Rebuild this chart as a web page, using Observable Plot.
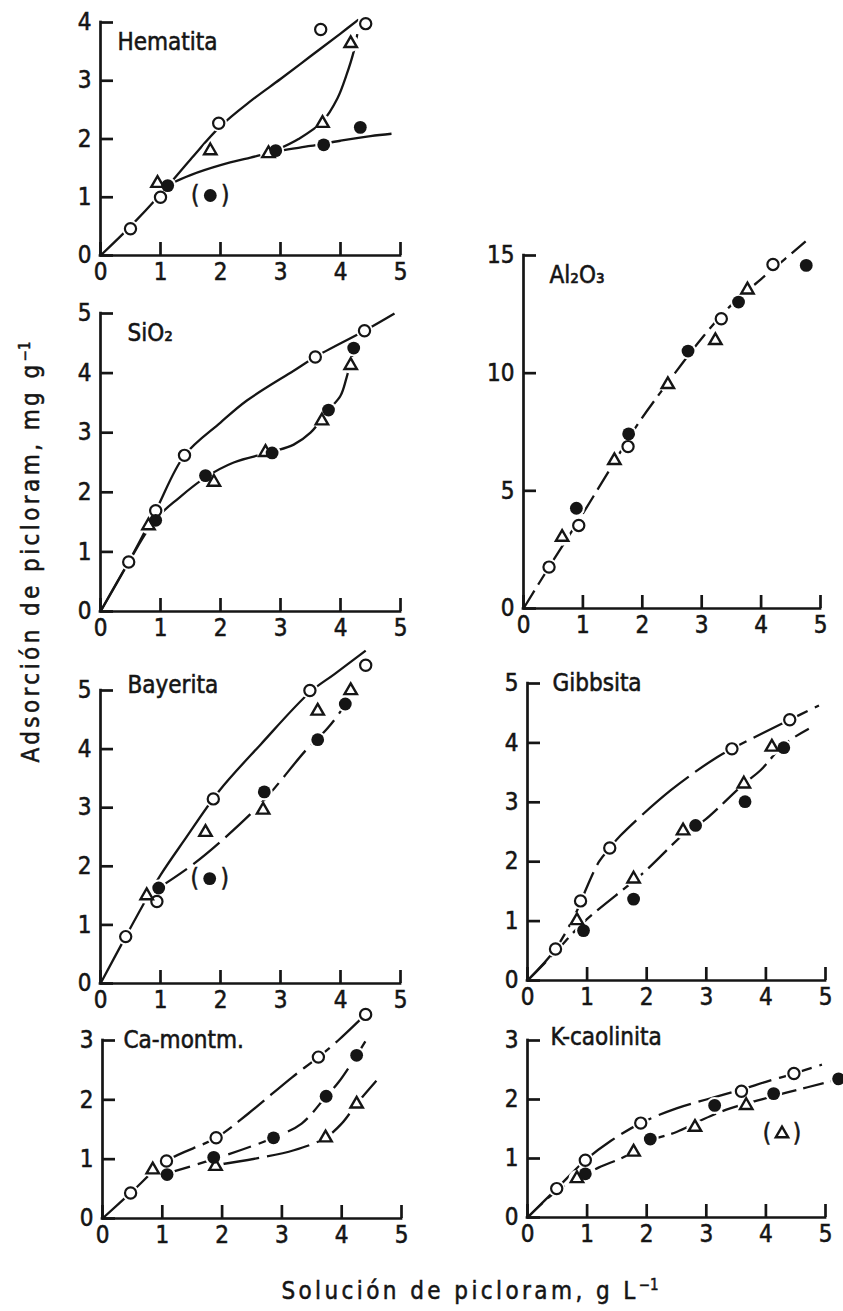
<!DOCTYPE html>
<html><head><meta charset="utf-8">
<script src="https://cdn.jsdelivr.net/npm/d3@7"></script>
<script src="https://cdn.jsdelivr.net/npm/@observablehq/plot@0.6"></script>
<style>
html,body{margin:0;padding:0;background:#fff;}
#root{position:relative;width:843px;height:1311px;overflow:hidden;background:#fff;font-family:"DejaVu Sans Condensed","DejaVu Sans",sans-serif;color:#151515;}
#root svg{position:absolute;overflow:visible;}
#root svg text{stroke:#151515;stroke-width:0.55px;}
g[aria-label="panel-label"] text{letter-spacing:3.5px;}
.title{position:absolute;font-size:24px;letter-spacing:3.4px;white-space:nowrap;text-align:center;line-height:30px;-webkit-text-stroke:0.5px #151515;}
.title sup{font-size:15px;letter-spacing:0;vertical-align:9px;line-height:0;}
</style></head>
<body><div id="root"></div>
<script>
// ---------- data ----------
const xTicks = [0, 1, 2, 3, 4, 5];
const yTicks4 = [0, 1, 2, 3, 4];
const yTicks5 = [0, 1, 2, 3, 4, 5];
const yTicks15 = [0, 5, 10, 15];
const yTicks3 = [0, 1, 2, 3];

const panelNames = ["Hematita", "SiO₂", "Al₂O₃", "Bayerita", "Gibbsita", "Ca-montm.", "K-caolinita"];

// Hematita
const hemOpen   = [[0.5,0.46],[1.0,1.0],[1.97,2.27],[3.67,3.88],[4.42,3.98]];
const hemTri    = [[0.95,1.24],[1.83,1.80],[2.80,1.75],[3.70,2.27],[4.17,3.64]];
const hemFilled = [[1.12,1.20],[2.92,1.80],[3.72,1.90],[4.33,2.20]];
const hemOutFilled = [[1.83,1.03]];
const hemCurveOpen   = [[0,0],[0.5,0.5],[1,1.05],[1.5,1.65],[2,2.22],[2.5,2.65],[3,3.03],[3.5,3.42],[4,3.81],[4.3,4.05]];
const hemCurveFilled = [[1.1,1.2],[1.5,1.38],[2,1.55],[2.5,1.68],[3,1.8],[3.5,1.88],[4,1.97],[4.5,2.05],[4.85,2.09]];
const hemCurveTri    = [[2.95,1.82],[3.3,2.0],[3.7,2.3],[3.95,2.7],[4.1,3.1],[4.22,3.5],[4.28,3.8]];

// SiO2
const sioOpen   = [[0.47,0.83],[0.92,1.69],[1.40,2.62],[3.58,4.27],[4.40,4.71]];
const sioTri    = [[0.80,1.44],[1.89,2.17],[2.75,2.67],[3.69,3.20],[4.17,4.13]];
const sioFilled = [[0.92,1.53],[1.75,2.28],[2.86,2.66],[3.80,3.38],[4.22,4.42]];
const sioCurveOpen = [[0,0],[0.47,0.83],[0.92,1.69],[1.4,2.62],[2.0,3.17],[2.44,3.54],[3.22,4.04],[3.58,4.27],[4.4,4.71],[4.9,5.0]];
const sioCurveLow  = [[0,0],[0.47,0.83],[0.92,1.55],[1.3,1.9],[1.75,2.25],[2.22,2.5],[2.86,2.68],[3.22,2.8],[3.5,3.0],[3.8,3.38],[4.0,3.62],[4.1,3.92],[4.2,4.3],[4.25,4.5]];

// Al2O3
const alOpen   = [[0.43,1.76],[0.93,3.53],[1.76,6.88],[3.33,12.31],[4.20,14.62]];
const alTri    = [[0.65,3.03],[1.53,6.29],[2.43,9.52],[3.23,11.39],[3.77,13.54]];
const alFilled = [[0.89,4.26],[1.77,7.42],[2.77,10.94],[3.62,13.02],[4.76,14.58]];
const alCurve  = [[0,0],[0.43,1.76],[0.93,3.75],[1.5,6.1],[1.91,7.78],[2.43,9.6],[3.04,11.6],[3.5,12.9],[4.0,14.0],[4.4,14.85],[4.75,15.6]];

// Bayerita
const bayOpen   = [[0.42,0.80],[0.94,1.40],[1.88,3.15],[3.49,5.00],[4.42,5.43]];
const bayTri    = [[0.77,1.50],[1.75,2.58],[2.71,2.96],[3.62,4.65],[4.17,5.00]];
const bayFilled = [[0.97,1.63],[2.73,3.27],[3.62,4.16],[4.08,4.77]];
const bayOutFilled = [[1.82,1.79]];
const bayCurveOpen = [[0,0],[0.42,0.8],[0.77,1.45],[1.0,1.85],[1.4,2.45],[1.98,3.29],[2.67,4.08],[3.49,4.97],[3.9,5.28],[4.42,5.68]];
const bayCurveLow  = [[0.97,1.63],[1.5,2.0],[2.0,2.42],[2.7,3.1],[3.44,4.0],[3.78,4.35],[4.08,4.77],[4.15,4.95]];

// Gibbsita
const gibOpen   = [[0.47,0.53],[0.89,1.34],[1.38,2.23],[3.43,3.90],[4.40,4.39]];
const gibTri    = [[0.83,1.01],[1.78,1.71],[2.61,2.52],[3.63,3.31],[4.10,3.93]];
const gibFilled = [[0.94,0.84],[1.78,1.37],[2.82,2.61],[3.65,3.01],[4.30,3.92]];
const gibCurveOpen = [[0,0],[0.47,0.53],[0.89,1.3],[0.97,1.51],[1.2,2.0],[1.38,2.23],[1.56,2.44],[2.4,3.2],[3.18,3.76],[3.43,3.9],[4.4,4.39],[4.89,4.63]];
const gibCurveLow  = [[0,0],[0.47,0.48],[0.94,0.98],[1.95,1.82],[2.61,2.45],[2.96,2.69],[3.63,3.31],[3.91,3.54],[4.3,3.97],[4.72,4.24]];

// Ca-montm.
const caOpen   = [[0.47,0.43],[1.07,0.97],[1.90,1.36],[3.61,2.72],[4.40,3.44]];
const caTri    = [[0.84,0.82],[1.89,0.88],[3.73,1.36],[4.25,1.93]];
const caFilled = [[1.08,0.74],[1.86,1.03],[2.86,1.36],[3.74,2.06],[4.25,2.75]];
const caCurveOpen   = [[0,0],[0.47,0.43],[1.07,0.97],[1.9,1.36],[2.44,1.77],[3.17,2.38],[3.61,2.72],[3.94,3.0],[4.4,3.44]];
const caCurveFilled = [[1.08,0.76],[1.86,1.0],[2.5,1.22],[2.86,1.36],[3.33,1.6],[3.74,2.06],[3.95,2.3],[4.25,2.75],[4.44,3.06]];
const caCurveTri    = [[1.89,0.9],[2.67,1.03],[3.2,1.15],[3.73,1.36],[4.0,1.6],[4.25,1.93],[4.58,2.32]];

// K-caolinita
const kOpen   = [[0.49,0.49],[0.97,0.97],[1.90,1.60],[3.59,2.14],[4.47,2.44]];
const kTri    = [[0.83,0.66],[1.78,1.11],[2.81,1.53],[3.67,1.90]];
const kFilled = [[0.97,0.74],[2.06,1.33],[3.14,1.90],[4.13,2.10],[5.22,2.35]];
const kOutTri = [[4.27,1.42]];
const kCurveOpen = [[0,0],[0.49,0.49],[0.97,0.97],[1.4,1.3],[1.9,1.6],[2.5,1.85],[3.0,2.0],[3.59,2.17],[4.0,2.3],[4.47,2.44],[4.94,2.59]];
const kCurveLow  = [[0,0],[0.49,0.45],[0.97,0.73],[1.2,0.85],[1.67,1.05],[2.06,1.3],[2.5,1.45],[2.96,1.67],[3.4,1.85],[3.85,1.98],[4.36,2.12],[5.14,2.32]];

// ---------- layout (page pixels of each frame) ----------
const INK = "#151515";
const DASH = "21,7", LONG = "34,8";
const panels = [
  {name: panelNames[0], yTicks: yTicks4, frame: [100,400,255,22], lab: [17,10],
   curves: [[hemCurveOpen,null],[hemCurveFilled,null],[hemCurveTri,null]],
   open: hemOpen, tri: hemTri, filled: hemFilled, outFilled: hemOutFilled},
  {name: panelNames[1], yTicks: yTicks5, frame: [100,400,611,313], lab: [27,10],
   curves: [[sioCurveOpen,null],[sioCurveLow,null]],
   open: sioOpen, tri: sioTri, filled: sioFilled},
  {name: panelNames[2], yTicks: yTicks15, frame: [523,820,608,255], lab: [26,10],
   curves: [[alCurve,DASH]],
   open: alOpen, tri: alTri, filled: alFilled},
  {name: panelNames[3], yTicks: yTicks5, frame: [100,400,983,690], lab: [27,-15],
   curves: [[bayCurveOpen,null],[bayCurveLow,LONG]],
   open: bayOpen, tri: bayTri, filled: bayFilled, outFilled: bayOutFilled},
  {name: panelNames[4], yTicks: yTicks5, frame: [527,825,980,683], lab: [25,-10],
   curves: [[gibCurveOpen,"60,8"],[gibCurveLow,"26,7"]],
   open: gibOpen, tri: gibTri, filled: gibFilled},
  {name: panelNames[5], yTicks: yTicks3, frame: [102,401,1218,1040], lab: [21,-10],
   curves: [[caCurveOpen,LONG],[caCurveFilled,"24,8"],[caCurveTri,"44,8"]],
   open: caOpen, tri: caTri, filled: caFilled},
  {name: panelNames[6], yTicks: yTicks3, frame: [527,825,1217,1040], lab: [23,-13],
   curves: [[kCurveOpen,LONG],[kCurveLow,DASH]],
   open: kOpen, tri: kTri, filled: kFilled, outTri: kOutTri}
];

const root = document.getElementById("root");
const X = d => d[0], Y = d => d[1];
const fmt = d => String(d);

for (const p of panels) {
  const [x0, x5, y0, yt] = p.frame;
  const mL = 60, mR = 34, mT = 52, mB = 48;
  const fw = x5 - x0, fh = y0 - yt;
  const ymax = p.yTicks[p.yTicks.length - 1];
  const pts = [...p.open, ...p.tri, ...p.filled];
  const marks = [];
  for (const [c, dash] of p.curves) {
    marks.push(Plot.line(c, {x: X, y: Y, curve: "catmull-rom", stroke: INK, strokeWidth: 2.3,
      strokeDasharray: dash || undefined, strokeLinecap: "butt"}));
  }
  marks.push(
    Plot.dot(pts, {x: X, y: Y, r: 8.5, fill: "white", stroke: "none"}),
    Plot.dot(p.open, {x: X, y: Y, r: 5.6, fill: "white", stroke: INK, strokeWidth: 2.2}),
    Plot.dot(p.tri, {x: X, y: Y, symbol: "triangle", r: 4.6, fill: "white", stroke: INK, strokeWidth: 2.4, strokeLinejoin: "miter"}),
    Plot.dot(p.filled, {x: X, y: Y, r: 6.4, fill: INK})
  );
  const outs = [];
  if (p.outFilled) {
    outs.push(...p.outFilled);
    marks.push(Plot.dot(p.outFilled, {x: X, y: Y, r: 6.4, fill: INK}));
  }
  if (p.outTri) {
    outs.push(...p.outTri);
    marks.push(Plot.dot(p.outTri, {x: X, y: Y, symbol: "triangle", r: 4.6, fill: "white", stroke: INK, strokeWidth: 2.4}));
  }
  if (outs.length) {
    marks.push(
      Plot.text(outs, {x: X, y: Y, text: () => "(", dx: -15, fontSize: 24, fill: INK}),
      Plot.text(outs, {x: X, y: Y, text: () => ")", dx: 15, fontSize: 24, fill: INK})
    );
  }
  // axes
  marks.push(
    Plot.ruleX([0], {stroke: INK, strokeWidth: 2.7, strokeLinecap: "square"}),
    Plot.ruleY([0], {stroke: INK, strokeWidth: 2.7, strokeLinecap: "square"}),
    Plot.tickY(p.yTicks, {y: d => d, insetRight: fw - 13, stroke: INK, strokeWidth: 2.7}),
    Plot.tickX(xTicks, {x: d => d, insetTop: fh - 13, stroke: INK, strokeWidth: 2.7}),
    Plot.axisY(p.yTicks, {anchor: "left", tickSize: 0, tickPadding: 9, fontSize: 24, label: null, fill: INK, tickFormat: fmt}),
    Plot.axisX(xTicks, {anchor: "bottom", tickSize: 0, tickPadding: 7, fontSize: 24, label: null, fill: INK, tickFormat: fmt}),
    Plot.text([p.name], {frameAnchor: "top-left", textAnchor: "start", lineAnchor: "top",
      dx: p.lab[0], dy: p.lab[1], fontSize: 24, fill: INK, ariaLabel: "panel-label"})
  );
  const svg = Plot.plot({
    width: fw + mL + mR, height: fh + mT + mB,
    marginLeft: mL, marginRight: mR, marginTop: mT, marginBottom: mB,
    x: {domain: [0, 5]},
    y: {domain: [0, ymax]},
    style: {fontFamily: '"DejaVu Sans Condensed","DejaVu Sans",sans-serif', fontSize: "24px", background: "transparent", overflow: "visible"},
    marks
  });
  svg.style.left = (x0 - mL) + "px";
  svg.style.top = (yt - mT) + "px";
  root.appendChild(svg);
}

// axis titles
const yt = document.createElement("div");
yt.className = "title";
yt.innerHTML = "Adsorción de picloram, mg g<sup>−1</sup>";
yt.style.width = "560px";
yt.style.left = (31 - 280) + "px";
yt.style.top = (552 - 15) + "px";
yt.style.transform = "rotate(-90deg)";
yt.style.transformOrigin = "50% 50%";
root.appendChild(yt);

const xt = document.createElement("div");
xt.className = "title";
xt.innerHTML = "Solución de picloram, g L<sup>−1</sup>";
xt.style.width = "600px";
xt.style.left = (470 - 300) + "px";
xt.style.top = "1276px";
root.appendChild(xt);
</script>
</body></html>
